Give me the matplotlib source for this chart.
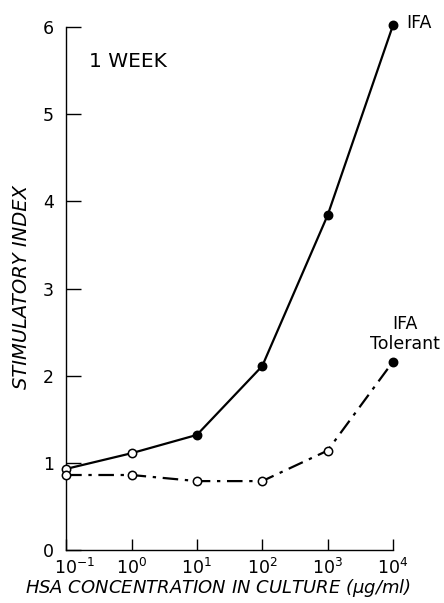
import matplotlib
matplotlib.use('Agg')
import matplotlib.pyplot as plt
import matplotlib.transforms as mtransforms

plt.rcParams['font.family'] = ['DejaVu Sans']
plt.rcParams['mathtext.fontset'] = 'dejavusans'

conc = [1e-1, 1e0, 1e1, 1e2, 1e3, 1e4]
ifa = [0.93, 1.11, 1.32, 2.11, 3.84, 6.02]
ifa_filled = [False, False, True, True, True, True]
tolerant = [0.86, 0.86, 0.79, 0.79, 1.14, 2.16]
tolerant_filled = [False, False, False, False, False, True]

fig = plt.figure(figsize=(4.44, 6.03), dpi=100)
ax = fig.add_axes([0.149, 0.088, 0.736, 0.867])

def draw(ys, filled, ls):
    ax.plot(conc, ys, color='black', lw=1.6, ls=ls, clip_on=False, zorder=2)
    for x, y, f in zip(conc, ys, filled):
        ax.plot(x, y, 'o', ms=6, mec='black', mew=1.1,
                mfc='black' if f else 'white', clip_on=False, zorder=3)

draw(ifa, ifa_filled, '-')
draw(tolerant, tolerant_filled, (0, (7, 3, 1.5, 3)))

ax.set_xscale('log')
ax.set_xlim(1e-1, 1e4)
ax.set_ylim(0, 6)
ax.set_xticks(conc)
ax.minorticks_off()
ax.set_yticks(range(7))

for s in ['top', 'right']:
    ax.spines[s].set_visible(False)
ax.spines['left'].set_linewidth(1.0)
ax.spines['bottom'].set_linewidth(1.0)
ax.tick_params(axis='y', direction='in', length=11, width=1, labelsize=12.5, pad=9)
ax.tick_params(axis='x', direction='in', length=8, width=1, labelsize=12.5, pad=6)

# nudge the 10^-1 label right so it clears the "0" like in the original
first = ax.get_xticklabels()[0]
first.set_transform(first.get_transform() +
                    mtransforms.ScaledTranslation(6 / 72, 0, fig.dpi_scale_trans))

ax.set_xlabel('HSA CONCENTRATION IN CULTURE ($\\mu$g/ml)', style='italic', fontsize=13)
ax.set_ylabel('STIMULATORY INDEX', style='italic', fontsize=14)
ax.xaxis.set_label_coords(0.465, -0.052)
ax.yaxis.set_label_coords(-0.107, 0.503)

ax.text(0.22, 5.6, '1 WEEK', fontsize=14.5, ha='left', va='center')
ax.text(1.6e4, 6.05, 'IFA', fontsize=12.5, ha='left', va='center', clip_on=False)
ax.text(1.5e4, 2.48, 'IFA\nTolerant', fontsize=12.5, ha='center', va='center',
        linespacing=1.15, clip_on=False)

fig.savefig('out.png', dpi=100)
